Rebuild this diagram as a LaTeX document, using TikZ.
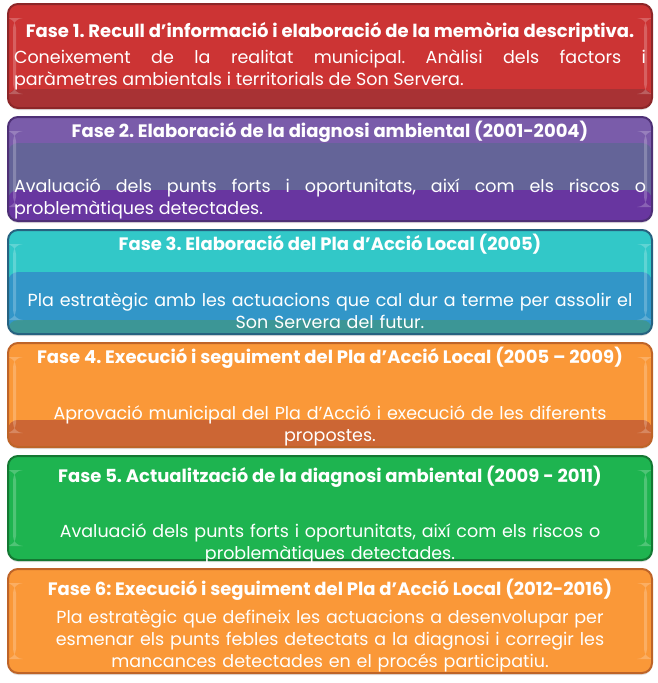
\documentclass[tikz,border=0pt]{standalone}
\usepackage{fontspec}
\setmainfont{Poppins}
\usetikzlibrary{positioning, shadows}

\definecolor{redtop}{RGB}{204,52,52}
\definecolor{redlow}{RGB}{168,50,52}
\definecolor{redline}{RGB}{140,38,40}
\definecolor{purtop}{RGB}{122,92,170}
\definecolor{purmid}{RGB}{100,100,152}
\definecolor{purlow}{RGB}{104,54,160}
\definecolor{purline}{RGB}{78,48,118}
\definecolor{cyantop}{RGB}{50,200,200}
\definecolor{cyanmid}{RGB}{50,150,200}
\definecolor{cyanlow}{RGB}{60,150,150}
\definecolor{cyanline}{RGB}{38,98,128}
\definecolor{orgtop}{RGB}{250,152,56}
\definecolor{orglow}{RGB}{204,102,52}
\definecolor{orgline}{RGB}{190,100,40}
\definecolor{grntop}{RGB}{30,180,80}
\definecolor{grnline}{RGB}{20,120,50}

\tikzstyle{fase} = [rectangle, rounded corners=10pt, minimum width=644pt, minimum height=104pt, line width=2pt, drop shadow={opacity=0.25, shadow xshift=0pt, shadow yshift=-2pt}]
\tikzstyle{hdr} = [text=white, anchor=base, inner sep=0pt, font=\bfseries\fontsize{18}{22}\selectfont]
\tikzstyle{bodytext} = [text=white, anchor=base, inner sep=0pt, text width=632pt, font=\fontsize{17.5}{22}\selectfont]
\tikzset{
  bands/.style n args={4}{path picture={
    \fill[#1] (path picture bounding box.south west) rectangle ([yshift=#2]path picture bounding box.south east);
    \fill[#3] (path picture bounding box.south west) rectangle ([yshift=#4]path picture bounding box.south east);
    \fill[white, opacity=.22] ([xshift=5pt,yshift=14pt]path picture bounding box.south west) rectangle ([xshift=8pt,yshift=-14pt]path picture bounding box.north west);
    \fill[white, opacity=.22] ([xshift=-5pt,yshift=14pt]path picture bounding box.south east) rectangle ([xshift=-8pt,yshift=-14pt]path picture bounding box.north east);
  }}
}

\begin{document}
\frenchspacing
\begin{tikzpicture}[x=1pt, y=-1pt]
\useasboundingbox (0,0) rectangle (658,683);

\node (fase1) [fase, fill=redtop, draw=redline, bands={redlow}{19pt}{redlow}{19pt}] at (330,56) {};
\node (fase2) [fase, below=7pt of fase1, fill=purtop, draw=purline, bands={purmid}{78pt}{purlow}{31pt}] {};
\node (fase3) [fase, below=7pt of fase2, fill=cyantop, draw=cyanline, bands={cyanmid}{62pt}{cyanlow}{14pt}] {};
\node (fase4) [fase, below=7pt of fase3, fill=orgtop, draw=orgline, bands={orglow}{27pt}{orglow}{27pt}] {};
\node (fase5) [fase, below=7pt of fase4, fill=grntop, draw=grnline, bands={grntop}{0pt}{grntop}{0pt}] {};
\node (fase6) [fase, below=7pt of fase5, fill=orgtop, draw=orgline, bands={orgtop}{0pt}{orgtop}{0pt}] {};

% titols
\node (hdr1) [hdr] at ([yshift=-34pt]fase1.north) {Fase 1. Recull d’informació i elaboració de la memòria descriptiva.};
\node (hdr2) [hdr] at ([yshift=-21pt]fase2.north) {Fase 2. Elaboració de la diagnosi ambiental (2001-2004)};
\node (hdr3) [hdr] at ([yshift=-21pt]fase3.north) {Fase 3. Elaboració del Pla d’Acció Local (2005)};
\node (hdr4) [hdr] at ([yshift=-21pt]fase4.north) {Fase 4. Execució i seguiment del Pla d’Acció Local (2005 – 2009)};
\node (hdr5) [hdr] at ([yshift=-27pt]fase5.north) {Fase 5. Actualització de la diagnosi ambiental (2009 - 2011)};
\node (hdr6) [hdr] at ([yshift=-27pt]fase6.north) {Fase 6: Execució i seguiment del Pla d’Acció Local (2012-2016)};

% textos
\node (txt1) [bodytext, align=justify] at ([yshift=-60pt]fase1.north) {Coneixement de la realitat municipal. Anàlisi dels factors i\linebreak paràmetres ambientals i territorials de Son Servera.};
\node (txt2) [bodytext, align=justify] at ([yshift=-76pt]fase2.north) {Avaluació dels punts forts i oportunitats, així com els riscos o\linebreak problemàtiques detectades.};
\node (txt3) [bodytext, align=center] at ([yshift=-77pt]fase3.north) {Pla estratègic amb les actuacions que cal dur a terme per assolir el\\ Son Servera del futur.};
\node (txt4) [bodytext, align=center] at ([yshift=-77pt]fase4.north) {Aprovació municipal del Pla d’Acció i execució de les diferents\\ propostes.};
\node (txt5) [bodytext, align=center] at ([yshift=-82pt]fase5.north) {Avaluació dels punts forts i oportunitats, així com els riscos o\\ problemàtiques detectades.};
\node (txt6) [bodytext, align=center] at ([yshift=-55pt]fase6.north) {Pla estratègic que defineix les actuacions a desenvolupar per\\ esmenar els punts febles detectats a la diagnosi i corregir les\\ mancances detectades en el procés participatiu.};
\end{tikzpicture}
\end{document}
